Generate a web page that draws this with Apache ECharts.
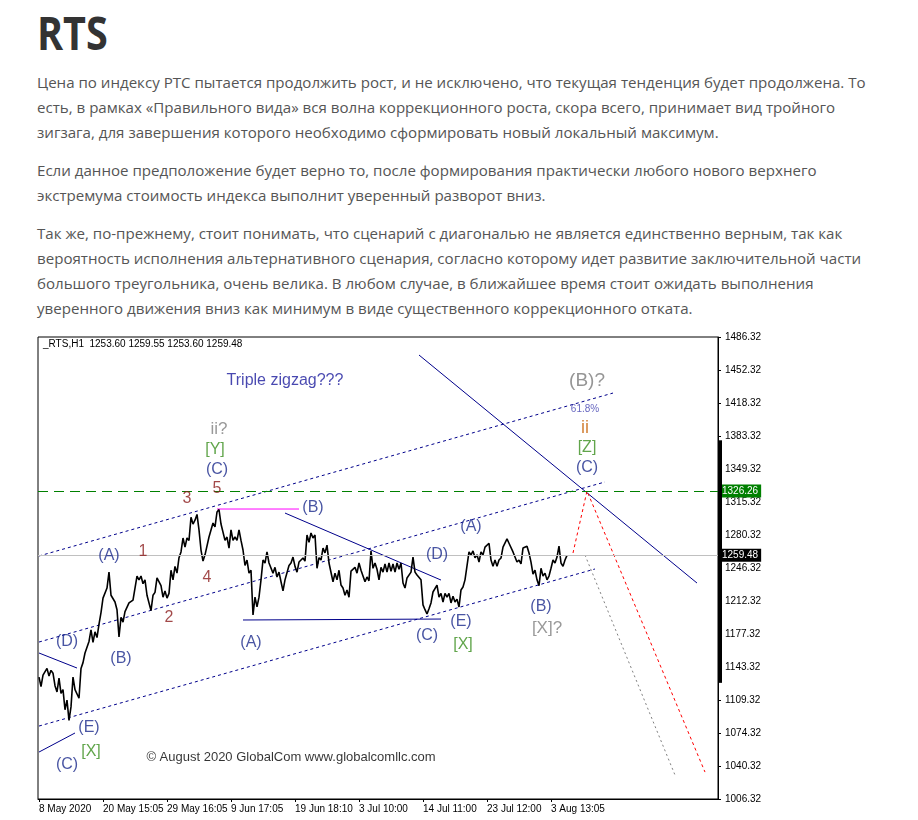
<!DOCTYPE html>
<html><head><meta charset="utf-8">
<script src="https://cdn.jsdelivr.net/npm/echarts@6/dist/echarts.min.js"></script>
<style>
html,body{margin:0;padding:0;background:#fff;width:918px;height:820px;overflow:hidden;}
#title{position:absolute;left:37px;top:9px;font-family:'Open Sans',sans-serif;font-weight:700;font-size:46px;line-height:46px;color:#333;transform:scaleX(.86);transform-origin:left top;white-space:nowrap;}
#text{position:absolute;left:37px;top:70px;font-family:'Open Sans',sans-serif;font-size:15.1px;line-height:25px;color:#555;}
#text p{margin:0 0 13px 0;white-space:nowrap;}
#chart{position:absolute;left:0;top:330px;width:918px;height:490px;}
</style></head>
<body>
<div id="title">RTS</div>
<div id="text">
<p>Цена по индексу РТС пытается продолжить рост, и не исключено, что текущая тенденция будет продолжена. То<br>есть, в рамках «Правильного вида» вся волна коррекционного роста, скора всего, принимает вид тройного<br>зигзага, для завершения которого необходимо сформировать новый локальный максимум.</p>
<p>Если данное предположение будет верно то, после формирования практически любого нового верхнего<br>экстремума стоимость индекса выполнит уверенный разворот вниз.</p>
<p>Так же, по-прежнему, стоит понимать, что сценарий с диагональю не является единственно верным, так как<br>вероятность исполнения альтернативного сценария, согласно которому идет развитие заключительной части<br>большого треугольника, очень велика. В любом случае, в ближайшее время стоит ожидать выполнения<br>уверенного движения вниз как минимум в виде существенного коррекционного отката.</p>
</div>
<div id="chart"></div>
<script>
// ---- data ----
const priceValues = [
1133,1123,1135,1133,1142,1134,1140,1137,1124,1117.5,
1132,1116,1120,1099,1109,1088,1102,1133,1120,1122,
1111,1142,1148,1158,1159,1170,1182,1169,1180,1174,
1188,1200,1215,1216,1225.5,1242,1218,1220,1211,1203,
1174.6,1195,1190,1201,1200,1210,1208,1213,1211,1238,
1234,1238,1230,1234,1218,1216,1202,1218,1221,1236,
1234,1228,1216,1222.5,1215,1220,1244,1234,1248,1241,
1257,1263,1277.5,1268,1277.5,1275,1299,1292,1296,1302,
1286,1265,1253.5,1260,1262,1278.5,1278.5,1293,1289,1304.5,
1307,1292,1293,1275,1278.5,1267,1286,1275,1278.5,1275,
1286,1275,1265,1249,1254.6,1241,1244,1197.5,1216,1206,
1216,1234,1254.6,1251.5,1263,1251.5,1253.5,1241,1247,1237,
1242,1232,1222.5,1234,1236,1249,1251.5,1257.7,1248,1242,
1252.5,1250.5,1256.7,1253.5,1280.6,1273,1282.7,1277.5,1280.6,1246,
1257,1254.6,1267,1262,1270,1251.5,1251.5,1232,1241,1234,
1244,1228.6,1225.5,1218,1223.5,1216,1243,1241,1247,1241,
1251.5,1244,1246,1232,1237,1233,1264,1246,1251.5,1245,
1234,1247,1242,1250.5,1242,1251.5,1243,1250.5,1242,1251.5,
1245,1251.5,1230.7,1225.5,1236,1234,1242,1257.7,1242,1239,
1241,1234,1208,1203,1198.5,1204,1210,1221.4,1221.4,1228.6,
1216,1220,1211,1220,1216,1220,1210,1217,1211,1214,
1205.8,1223.5,1226.6,1234,1233,1263,1260,1264,1257,1260,
1252.5,1263,1260,1268,1269,1272,1254.6,1248,1254.6,1248,
1254.6,1256.7,1268,1268,1276.5,1272,1274,1263,1265,1252.5,
1254.6,1250.5,1267,1265,1269,1262,1252.5,1240,1244,1234,
1228,1246,1238,1241,1234,1238,1246,1254.6,1251.5,1257.7,
1269,1251.5,1248,1254.6,1259.5
];
const slotCount = 340;
const timeLabelIndex = [0,32,64,96,128,160,192,224,256];
const timeLabels = ['8 May 2020','20 May 15:05','29 May 16:05','9 Jun 17:05','19 Jun 18:10','3 Jul 10:00','14 Jul 11:00','23 Jul 12:00','3 Aug 13:05'];
const yTickLabels = ['1006.32','1040.32','1074.32','1109.32','1143.32','1177.32','1212.32','1246.32','1280.32','1315.32','1349.32','1383.32','1418.32','1452.32','1486.32'];
const yMin = 1006.32, yMax = 1486.32;
const lastPrice = 1259.48;
const targetLevel = 1326.26;
const headerText = '_RTS,H1  1253.60 1259.55 1253.60 1259.48';
const channelLines = [
  [[0,1258.8],[287,1428.1]],
  [[0,1169.4],[283,1335.7]],
  [[0,1082.1],[278,1245.3]]
];
const solidLines = [
  [[0,1158.0],[19,1142.4]],
  [[0,1055.1],[18,1074.9]],
  [[190,1467.6],[329,1230.7]],
  [[123,1303.4],[201,1233.8]],
  [[102,1192.3],[201,1193.3]]
];
const magentaLine = [[89,1307.6],[130,1307.6]];
const redPath = [[267,1261.9],[274,1326.3],[333,1034.3]];
const grayPath = [[273,1259.8],[318,1031.2]];
const scaleBar = [1379,1127];

const navyLabels = [['(A)',35,1258.8],['(B)',41,1151.8],['(D)',14,1169.4],['(E)',25,1080.0],['(C)',14,1041.6],
  ['(A)',106,1168.4],['(B)',137,1308.6],['(C)',194,1175.6],['(D)',199,1259.8],['(E)',211,1190.2],
  ['(A)',216,1288.9],['(B)',251,1205.8],['(C)',89,1348.1],['(C)',274,1350.2]];
const greenLabels = [['[Y]',88,1368.9],['[Z]',274,1371.0],['[X]',26,1055.1],['[X]',212,1166.3]];
const grayLabels = [['ii?',90,1390.7],['[X]?',254,1184.0]];
const bigGrayLabels = [['(B)?',274,1440.6]];
const redLabels = [['1',52,1262.9],['2',65,1194.4],['3',74,1318.0],['4',84,1235.9],['5',89,1328.4]];
const orangeLabels = [['ii',273,1391.8]];
const fibLabels = [['61.8%',273,1411.5]];
const noteLabels = [['Triple zigzag???',123,1440.6]];
const copyrightLabels = [['© August 2020 GlobalCom www.globalcomllc.com',126,1050.0]];

// ---- chart ----
const FONT = "'Liberation Sans', Arial, sans-serif";
const chart = echarts.init(document.getElementById('chart'));
const categories = Array.from({length: slotCount}, (_, i) => String(i));
const timeMap = {};
timeLabelIndex.forEach((ix, k) => timeMap[ix] = timeLabels[k]);
const yStep = (yMax - yMin) / (yTickLabels.length - 1);

function lineSeries(pts, color, type, width) {
  return {type:'line', data: pts, symbol:'none', silent:true, animation:false,
    lineStyle:{color, type, width}, z:2};
}
function labelSeries(list, color, size) {
  return {type:'scatter', silent:true, animation:false, symbol:'circle', symbolSize:1,
    itemStyle:{color:'rgba(0,0,0,0)'}, z:5,
    data: list.map(([t,i,p]) => ({name:t, value:[i,p]})),
    label:{show:true, position:'inside', formatter:(d)=>d.name, color, fontSize:size, fontFamily:FONT}};
}

const series = [];
series.push({
  type:'line', data: priceValues, symbol:'none', animation:false, silent:true, z:3,
  lineStyle:{color:'#000', width:1.6},
  markLine:{symbol:['none','none'], silent:true, animation:false, data:[
    {yAxis:lastPrice, lineStyle:{color:'#c0c0c0', width:1, type:'solid'},
     label:{show:true, position:'end', distance:2, formatter:()=>lastPrice.toFixed(2), color:'#fff', backgroundColor:'#000', padding:[2,3,1,2], fontSize:10, fontFamily:FONT}},
    {yAxis:targetLevel, lineStyle:{color:'#008000', width:1, type:[10,6], opacity:1},
     label:{show:true, position:'end', distance:2, formatter:()=>targetLevel.toFixed(2), color:'#fff', backgroundColor:'#008000', padding:[2,3,1,2], fontSize:10, fontFamily:FONT}}
  ]}
});
channelLines.forEach(l => series.push(lineSeries(l, '#00008b', [3,3], 1)));
solidLines.forEach(l => series.push(lineSeries(l, '#00008b', 'solid', 1)));
series.push(lineSeries(magentaLine, '#ff00ff', 'solid', 1));
series.push(lineSeries(redPath, '#ff0000', [3,3], 1));
series.push(lineSeries(grayPath, '#808080', [2,3], 1));
series.push(labelSeries(navyLabels, '#1c2a8c', 16));
series.push(labelSeries(greenLabels, '#3a8f1e', 16));
series.push(labelSeries(grayLabels, '#808080', 17));
series.push(labelSeries(bigGrayLabels, '#7a7a7a', 19));
series.push(labelSeries(redLabels, '#8b1c1c', 16));
series.push(labelSeries(orangeLabels, '#c8640a', 18));
series.push(labelSeries(fibLabels, '#4040b0', 10));
series.push(labelSeries(noteLabels, '#1a1a9c', 16));
series.push(labelSeries(copyrightLabels, '#000', 13));

chart.setOption({
  animation:false,
  backgroundColor:'#fff',
  title:{text: headerText, left:43, top:9, padding:0,
    textStyle:{fontSize:10, fontWeight:'normal', color:'#000', fontFamily:FONT}},
  grid:{left:38, right:200, top:7, bottom:21, show:true, borderColor:'#000', borderWidth:1, backgroundColor:'#fff', outerBoundsMode:'none'},
  xAxis:{type:'category', data:categories, boundaryGap:true,
    axisLine:{show:true, lineStyle:{color:'#000', width:1}},
    axisTick:{show:true, alignWithLabel:true, length:3, interval:(i)=>timeMap[i]!==undefined, lineStyle:{color:'#000'}},
    axisLabel:{show:true, interval:(i)=>timeMap[i]!==undefined, formatter:(v,i)=>timeMap[i]||'', align:'left', margin:5, color:'#000', fontSize:10, fontFamily:FONT},
    splitLine:{show:false}},
  yAxis:{type:'value', position:'right', min:yMin, max:yMax, interval:yStep, scale:true,
    axisLine:{show:true, lineStyle:{color:'#000', width:1}},
    axisTick:{show:true, length:3, lineStyle:{color:'#000'}},
    axisLabel:{show:true, margin:7, color:'#000', fontSize:10, fontFamily:FONT,
      formatter:(v)=>{const k=Math.round((v-yMin)/yStep); return yTickLabels[k]||'';}},
    splitLine:{show:false}},
  series
});

const pTop = chart.convertToPixel({xAxisIndex:0, yAxisIndex:0}, [slotCount-1, scaleBar[0]]);
const pBot = chart.convertToPixel({xAxisIndex:0, yAxisIndex:0}, [slotCount-1, scaleBar[1]]);
chart.setOption({graphic:[{type:'rect', silent:true, z:10,
  shape:{x:pTop[0]+2, y:pTop[1], width:3, height:pBot[1]-pTop[1]}, style:{fill:'#000'}}]});
</script>
</body></html>
